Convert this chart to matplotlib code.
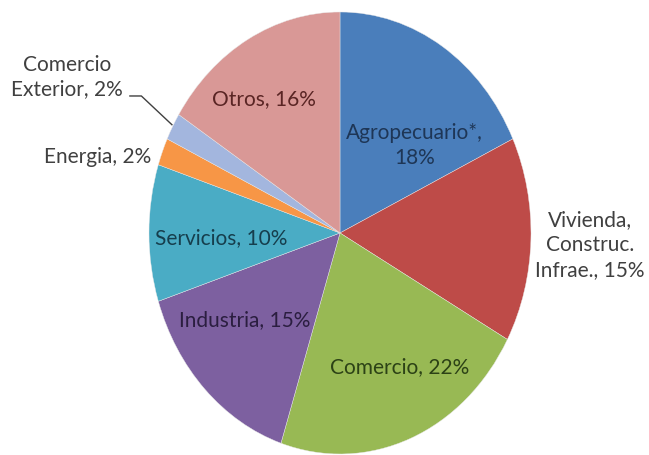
import matplotlib.pyplot as plt

sectores = ['Agropecuario*', 'Vivienda, Construc. Infrae.', 'Comercio', 'Industria',
            'Servicios', 'Energia', 'Comercio Exterior', 'Otros']
valores = [18, 15, 22, 15, 10, 2, 2, 16]
etiquetas = ['Agropecuario*,\n18%', 'Vivienda,\nConstruc.\nInfrae., 15%', 'Comercio, 22%',
             'Industria, 15%', 'Servicios, 10%', 'Energia, 2%', 'Comercio\nExterior, 2%',
             'Otros, 16%']
colores = ['#4A7EBB', '#BE4B48', '#98B954', '#7D60A0', '#4AACC5', '#F79646', '#A3B6DE', '#D99896']

# label colours: darker shade inside the slices, grey outside
colores_txt = ['#1E3656', '#404040', '#2C4216', '#2B1E40', '#163E4D', '#404040', '#404040', '#5A2524']
pos_txt = [(0.39, 0.40), (1.31, -0.05), (0.31, -0.60), (-0.50, -0.39),
           (-0.62, -0.02), (-1.27, 0.35), (-1.43, 0.71), (-0.40, 0.61)]

W, H = 649, 456
fig = plt.figure(figsize=(W / 100, H / 100), dpi=100)
cx, cy, rx, ry = 340, 234, 191, 221
ax = fig.add_axes([(cx - rx) / W, (H - cy - ry) / H, 2 * rx / W, 2 * ry / H])

ax.pie(valores, colors=colores, startangle=90, counterclock=False, radius=1,
       wedgeprops=dict(edgecolor='#E8E8E8', linewidth=0.3))
ax.set_aspect('auto')
ax.set_xlim(-1, 1)
ax.set_ylim(-1, 1)
ax.axis('off')

for txt, (x, y), c in zip(etiquetas, pos_txt, colores_txt):
    ax.text(x, y, txt, ha='center', va='center', fontsize=15, family=['Lato', 'DejaVu Sans'],
            color=c, linespacing=1.3, clip_on=False)

# leader line for Comercio Exterior
ax.plot([-1.10, -1.04, -0.88], [0.62, 0.62, 0.49], color='#404040', lw=1, clip_on=False)

fig.savefig('out.png', dpi=100)
